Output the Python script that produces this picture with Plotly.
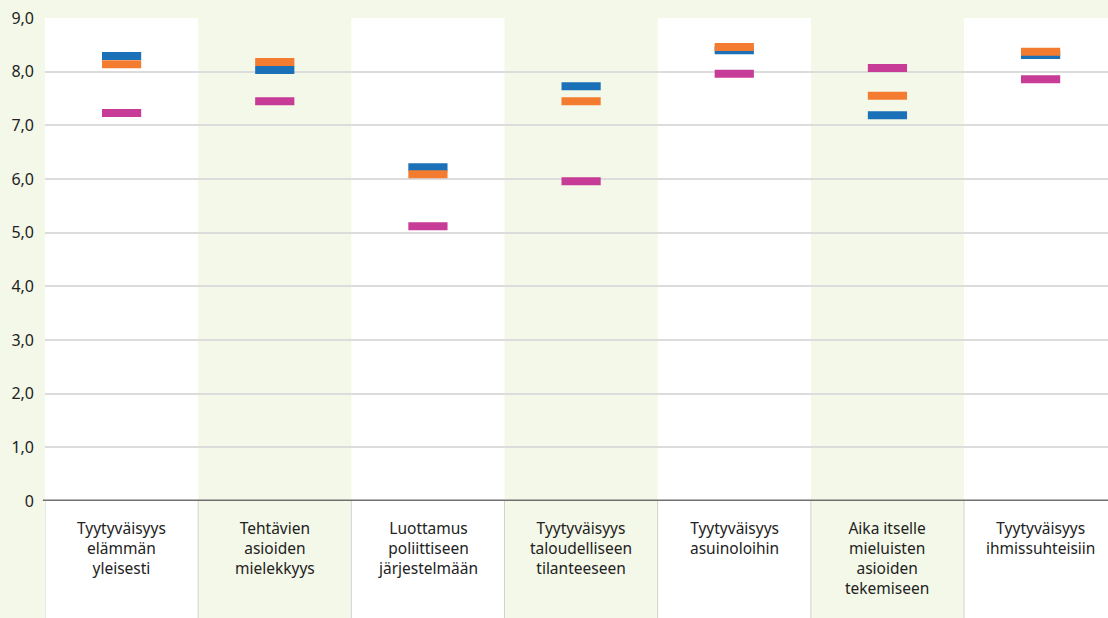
import plotly.graph_objects as go

categories = [
    "Tyytyväisyys<br>elämmän<br>yleisesti",
    "Tehtävien<br>asioiden<br>mielekkyys",
    "Luottamus<br>poliittiseen<br>järjestelmään",
    "Tyytyväisyys<br>taloudelliseen<br>tilanteeseen",
    "Tyytyväisyys<br>asuinoloihin",
    "Aika itselle<br>mieluisten<br>asioiden<br>tekemiseen",
    "Tyytyväisyys<br>ihmissuhteisiin",
]
series_blue = [8.29, 8.03, 6.22, 7.73, 8.40, 7.19, 8.31]
series_orange = [8.14, 8.18, 6.09, 7.45, 8.46, 7.55, 8.37]
series_magenta = [7.23, 7.45, 5.12, 5.96, 7.96, 8.07, 7.86]
tick_values = [0, 1, 2, 3, 4, 5, 6, 7, 8, 9]
tick_labels = ["0", "1,0", "2,0", "3,0", "4,0", "5,0", "6,0", "7,0", "8,0", "9,0"]

GREEN = "#f4f8e8"
FONT = "Noto Sans"
x_idx = list(range(len(categories)))

fig = go.Figure()
for vals, col in [(series_blue, "#1b71b8"), (series_orange, "#f47c30"), (series_magenta, "#c63c96")]:
    fig.add_trace(go.Scatter(
        x=x_idx, y=vals, mode="markers",
        marker=dict(symbol="line-ew", size=28, line=dict(width=8, color=col), color=col),
        showlegend=False, hoverinfo="y",
    ))

H_PLOT = 483
bottom_paper = -117 / H_PLOT
shapes = []
for i in x_idx:
    if i % 2 == 0:
        shapes.append(dict(type="rect", xref="x", yref="paper", x0=i - 0.5, x1=i + 0.5,
                           y0=bottom_paper - 0.05, y1=1, fillcolor="white", line_width=0, layer="below"))
for i in range(len(categories) + 1):
    shapes.append(dict(type="line", xref="x", yref="paper", x0=i - 0.5, x1=i - 0.5,
                       y0=bottom_paper - 0.05, y1=0, line=dict(color="#d2d2d2", width=1), layer="above"))
shapes.append(dict(type="line", xref="paper", yref="y", x0=-0.002, x1=1, y0=0, y1=0,
                   line=dict(color="#707070", width=3), layer="above"))

annotations = []
for i, cat in enumerate(categories):
    annotations.append(dict(x=i, y=0, xref="x", yref="paper", text=cat, showarrow=False,
                            yanchor="top", xanchor="center", yshift=-14, align="center",
                            font=dict(family=FONT, size=15.5, color="#222222")))

fig.update_layout(
    width=1108, height=618,
    margin=dict(l=45, r=0, t=18, b=117),
    paper_bgcolor=GREEN, plot_bgcolor=GREEN,
    shapes=shapes, annotations=annotations,
    font=dict(family=FONT, size=16, color="#222222"),
    xaxis=dict(range=[-0.5, 6.44], showgrid=False, zeroline=False, showticklabels=False,
               ticks="", showline=False, fixedrange=True),
    yaxis=dict(range=[0, 9], tickvals=tick_values, ticktext=tick_labels, showgrid=True,
               gridcolor="#dcdcdc", gridwidth=1.5, zeroline=False, showline=False,
               ticks="", ticklabelstandoff=10, tickfont=dict(family=FONT, size=16, color="#222222")),
)

fig.write_html("out.html", config={"displayModeBar": False},
               post_script="document.body.style.margin='0';document.body.style.background='" + GREEN + "';")
